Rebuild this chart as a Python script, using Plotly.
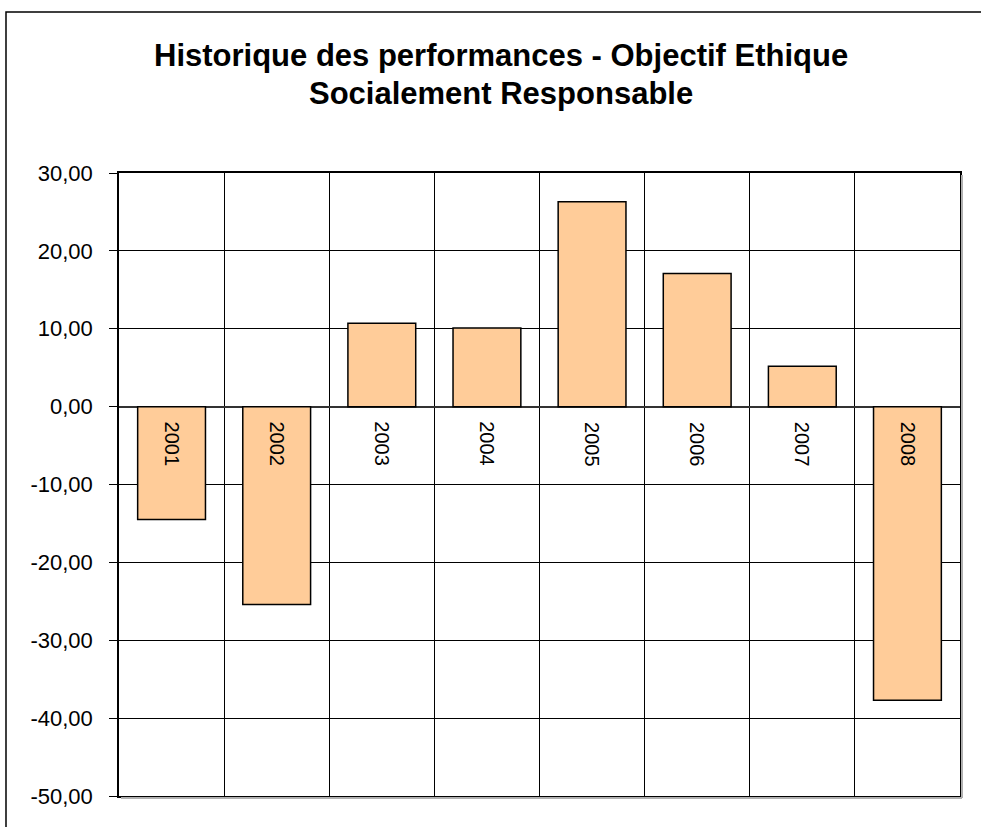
import plotly.graph_objects as go

years = ["2001", "2002", "2003", "2004", "2005", "2006", "2007", "2008"]
perf = [-14.5, -25.4, 10.7, 10.1, 26.3, 17.1, 5.2, -37.7]
ytick_vals = [30, 20, 10, 0, -10, -20, -30, -40, -50]
ytick_text = ["30,00", "20,00", "10,00", "0,00", "-10,00", "-20,00", "-30,00", "-40,00", "-50,00"]
title_lines = ["Historique des performances - Objectif Ethique", "Socialement Responsable"]

W, H = 981, 827
L, R, T, B = 119, 21, 173, 31
pw, ph = W - L - R, H - T - B

def px_x(p):
    return (p - L) / pw

def px_y(p):
    return (H - B - p) / ph

FONT = "Liberation Sans, Arial, sans-serif"
xs = list(range(len(years)))

fig = go.Figure()
fig.add_trace(go.Bar(
    x=xs, y=perf, width=0.645,
    marker=dict(color="#FFCC99", line=dict(color="#000000", width=1.5)),
    hoverinfo="skip", showlegend=False,
))

annotations = []
for i, yr in enumerate(years):
    annotations.append(dict(
        x=i, y=0, xref="x", yref="y", text=yr, textangle=90,
        showarrow=False, yanchor="top", xanchor="center", yshift=-13,
        font=dict(family=FONT, size=20, color="#000000"),
    ))
for j, (line, ypx) in enumerate(zip(title_lines, [55, 94])):
    annotations.append(dict(
        x=px_x(501), y=px_y(ypx), xref="paper", yref="paper", text="<b>%s</b>" % line,
        showarrow=False, xanchor="center", yanchor="middle",
        font=dict(family=FONT, size=31, color="#000000"),
    ))

frame_path = "M %f,%f L %f,%f L %f,%f" % (
    px_x(6), px_y(840), px_x(6), px_y(12), px_x(995), px_y(12))

fig.update_layout(
    width=W, height=H,
    margin=dict(l=L, r=R, t=T, b=B, pad=0),
    paper_bgcolor="white", plot_bgcolor="white",
    annotations=annotations,
    shapes=[
        dict(type="path", xref="paper", yref="paper", path=frame_path,
             line=dict(color="#000000", width=1.5), layer="below"),
        dict(type="line", xref="paper", yref="paper",
             x0=px_x(962), x1=px_x(962), y0=px_y(175), y1=px_y(798),
             line=dict(color="#B0B0B0", width=2)),
        dict(type="line", xref="paper", yref="paper",
             x0=px_x(121), x1=px_x(962), y0=px_y(798), y1=px_y(798),
             line=dict(color="#B0B0B0", width=2)),
    ],
    xaxis=dict(
        range=[-0.5, len(years) - 0.5],
        tickvals=[i + 0.5 for i in range(len(years) - 1)],
        showticklabels=False, ticks="",
        showgrid=True, gridcolor="#000000", gridwidth=1,
        showline=True, mirror=True, linecolor="#000000", linewidth=1.5,
        zeroline=False, fixedrange=True,
    ),
    yaxis=dict(
        range=[-50, 30],
        tickvals=ytick_vals, ticktext=ytick_text,
        ticks="outside", ticklen=8, tickcolor="#000000", tickwidth=1,
        tickfont=dict(family=FONT, size=22, color="#000000"),
        showgrid=True, gridcolor="#000000", gridwidth=1,
        showline=True, mirror=True, linecolor="#000000", linewidth=1.5,
        zeroline=True, zerolinecolor="#333333", zerolinewidth=1.5,
        ticklabelstandoff=12, fixedrange=True,
    ),
    bargap=0.35,
)

fig.write_html(
    "out.html",
    config={"displayModeBar": False},
    post_script="document.body.style.margin='0';document.body.style.overflow='hidden';",
)
